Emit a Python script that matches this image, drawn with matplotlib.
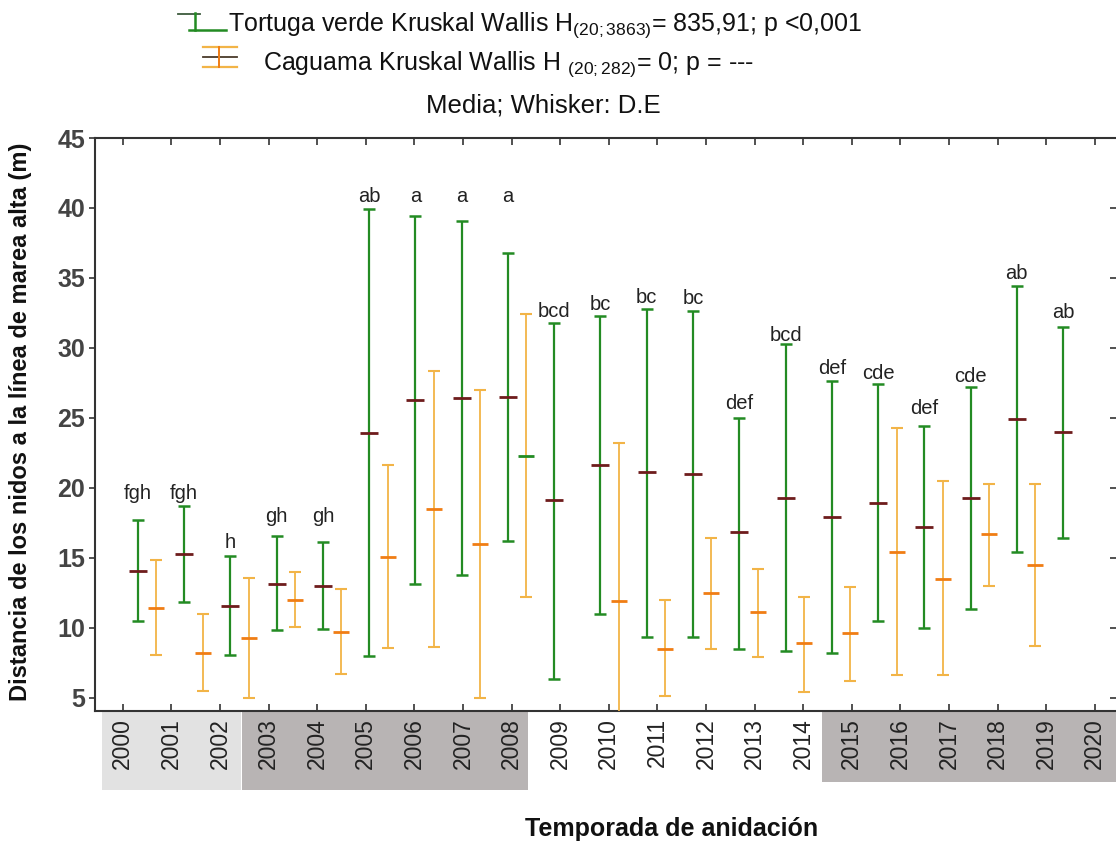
import numpy as np
import matplotlib.pyplot as plt
from matplotlib.lines import Line2D
from matplotlib.patches import Rectangle
import matplotlib.transforms as mtransforms

plt.rcParams['font.family'] = ['Liberation Sans', 'DejaVu Sans']
plt.rcParams['mathtext.fontset'] = 'custom'
plt.rcParams['mathtext.rm'] = 'Liberation Sans'
plt.rcParams['mathtext.it'] = 'Liberation Sans:italic'
plt.rcParams['mathtext.bf'] = 'Liberation Sans:bold'

# nesting seasons
years = list(range(2000, 2021))

# green turtle (Tortuga verde): mean and mean +/- SD
green_mean = [14.06, 15.23, 11.58, 13.15, 13.01, 23.94, 26.30, 26.44, 26.50, 19.10, 21.60,
              21.10, 21.00, 16.80, 19.30, 17.90, 18.90, 17.20, 19.30, 24.90, 24.00]
green_upper = [17.68, 18.66, 15.13, 16.56, 16.13, 39.92, 39.44, 39.10, 36.80, 31.80, 32.30,
               32.80, 32.60, 25.00, 30.30, 27.60, 27.40, 24.40, 27.20, 34.40, 31.50]
green_lower = [10.49, 11.80, 8.06, 9.80, 9.92, 7.94, 13.13, 13.73, 16.20, 6.30, 11.00,
               9.30, 9.30, 8.50, 8.30, 8.20, 10.50, 10.00, 11.30, 15.40, 16.40]

# loggerhead (Caguama): no data for 2009 and 2020
nan = np.nan
cag_mean = [11.39, 8.18, 9.27, 11.99, 9.70, 15.06, 18.49, 15.96, 22.30, nan, 11.90,
            8.50, 12.50, 11.10, 8.90, 9.60, 15.40, 13.50, 16.70, 14.50, nan]
cag_upper = [14.82, 10.94, 13.58, 13.99, 12.75, 21.60, 28.32, 27.00, 32.40, nan, 23.20,
             12.00, 16.40, 14.20, 12.20, 12.90, 24.30, 20.50, 20.30, 20.30, nan]
cag_lower = [8.01, 5.44, 4.96, 10.01, 6.70, 8.54, 8.61, 4.94, 12.20, nan, 2.00,
             5.10, 8.50, 7.90, 5.40, 6.20, 6.60, 6.60, 13.00, 8.70, nan]

# Kruskal Wallis groups (green turtle) and the height where each letter sits
letters = ['fgh', 'fgh', 'h', 'gh', 'gh', 'ab', 'a', 'a', 'a', 'bcd', 'bc',
           'bc', 'bc', 'def', 'bcd', 'def', 'cde', 'def', 'cde', 'ab', 'ab']
letter_y = [19.23, 19.23, 15.66, 17.56, 17.56, 40.45, 40.45, 40.45, 40.45, 32.2, 32.7,
            33.2, 33.1, 25.66, 30.5, 28.1, 27.75, 25.25, 27.56, 34.9, 32.1]

GREEN = '#238b23'
GREEN_MEAN = '#6e1c1c'
ORANGE = '#f2b447'
ORANGE_MEAN = '#f07d14'

W, H = 1116, 842
fig = plt.figure(figsize=(W / 100, H / 100), dpi=100)
ax = fig.add_axes([95 / W, 1 - 711 / H, (1116 - 95) / W, (711 - 138) / H])

idx = np.arange(len(years))
gx = 0.31 + 0.952 * idx
ox = gx + 0.38

gm = np.array(green_mean)
ax.errorbar(gx, gm, yerr=[gm - np.array(green_lower), np.array(green_upper) - gm],
            fmt='none', ecolor=GREEN, elinewidth=1.6, capsize=4.5, capthick=1.8, zorder=3)
ax.plot(gx, gm, ls='none', marker='_', ms=13, mew=2.0, color=GREEN_MEAN, zorder=4)

cm = np.array(cag_mean)
ax.errorbar(ox, cm, yerr=[cm - np.array(cag_lower), np.array(cag_upper) - cm],
            fmt='none', ecolor=ORANGE, elinewidth=1.3, capsize=4.5, capthick=1.5, zorder=3)
mean_cols = [ORANGE_MEAN] * len(years)
mean_cols[8] = GREEN
for x, m, c in zip(ox, cm, mean_cols):
    ax.plot([x], [m], ls='none', marker='_', ms=12, mew=2.0, color=c, zorder=4)

for x, lab, y in zip(gx, letters, letter_y):
    ax.text(x, y, lab, ha='center', va='baseline', fontsize=14.5, color='#222222')

ax.set_xlim(-0.57, -0.57 + 1021 / 48.6)
ax.set_ylim(4.04, 45)
ax.set_yticks(range(5, 50, 5))
ax.set_xticks(idx)
ax.set_xticklabels([str(y) for y in years], rotation=90, fontsize=16.5, color='#222222')
for lab in ax.get_yticklabels():
    lab.set_fontweight('bold')
    lab.set_fontsize(18)
    lab.set_color('#444444')

ax.tick_params(axis='x', which='both', direction='in', top=True, bottom=True,
               length=5, width=1.2, pad=5, color='#333333')
ax.tick_params(axis='y', which='both', direction='out', left=True, right=False,
               length=4, width=1.2, pad=3, color='#333333')
ax_r = ax.secondary_yaxis('right')
ax_r.set_yticks(range(5, 50, 5))
ax_r.tick_params(direction='in', length=4, width=1.2, labelright=False, color='#333333')
for s in ['left', 'bottom', 'top']:
    ax.spines[s].set_linewidth(1.5)
    ax.spines[s].set_color('#333333')
ax.spines['right'].set_visible(False)
ax_r.spines['right'].set_visible(False)

ax.set_ylabel('Distancia de los nidos a la línea de marea alta (m)', fontsize=17,
              fontweight='bold', color='#111111')
ax.yaxis.set_label_coords(-0.062, 0.505)
fig.text(672 / W, 1 - 829 / H, 'Temporada de anidación', ha='center', va='center',
         fontsize=18, fontweight='bold', color='#111111')

# grey bands behind the season labels
trans = mtransforms.blended_transform_factory(ax.transData, ax.transAxes)
for x0, x1, h, col in [(-0.43, 2.43, 0.136, '#e2e2e2'), (2.45, 8.34, 0.136, '#b8b4b4'),
                       (14.39, 20.6, 0.122, '#b8b4b4')]:
    ax.add_patch(Rectangle((x0, -0.002 - h), x1 - x0, h, transform=trans,
                           facecolor=col, edgecolor='none', clip_on=False, zorder=0))


def fx(px):
    return px / W


def fy(py):
    return 1 - py / H


def seg(x0, x1, y0, y1, col, lw):
    fig.add_artist(Line2D([fx(x0), fx(x1)], [fy(y0), fy(y1)], color=col, lw=lw,
                          transform=fig.transFigure))


# legend icons
seg(178, 200, 13.5, 13.5, '#3d5a3d', 1.3)
seg(195, 195, 13, 30, GREEN, 1.8)
seg(189, 226, 30, 30, GREEN, 1.8)
seg(203, 237, 46.5, 46.5, ORANGE, 1.6)
seg(203, 237, 56.5, 56.5, '#4a3a2a', 1.3)
seg(203, 237, 66.5, 66.5, ORANGE, 1.6)
seg(219, 219, 46.5, 66.5, ORANGE_MEAN, 1.4)

fig.text(fx(228), fy(31), r'Tortuga verde Kruskal Wallis H$_{\mathrm{(20{;}3863)}}$= 835,91; p <0,001',
         ha='left', va='baseline', fontsize=18, color='#111111')
fig.text(fx(263), fy(70), r'Caguama Kruskal Wallis H $_{\mathrm{(20{;}282)}}$= 0; p = ---',
         ha='left', va='baseline', fontsize=18, color='#111111')
fig.text(fx(543), fy(112), 'Media; Whisker: D.E', ha='center', va='baseline',
         fontsize=18.5, color='#111111')

fig.savefig('out.png', dpi=100)
